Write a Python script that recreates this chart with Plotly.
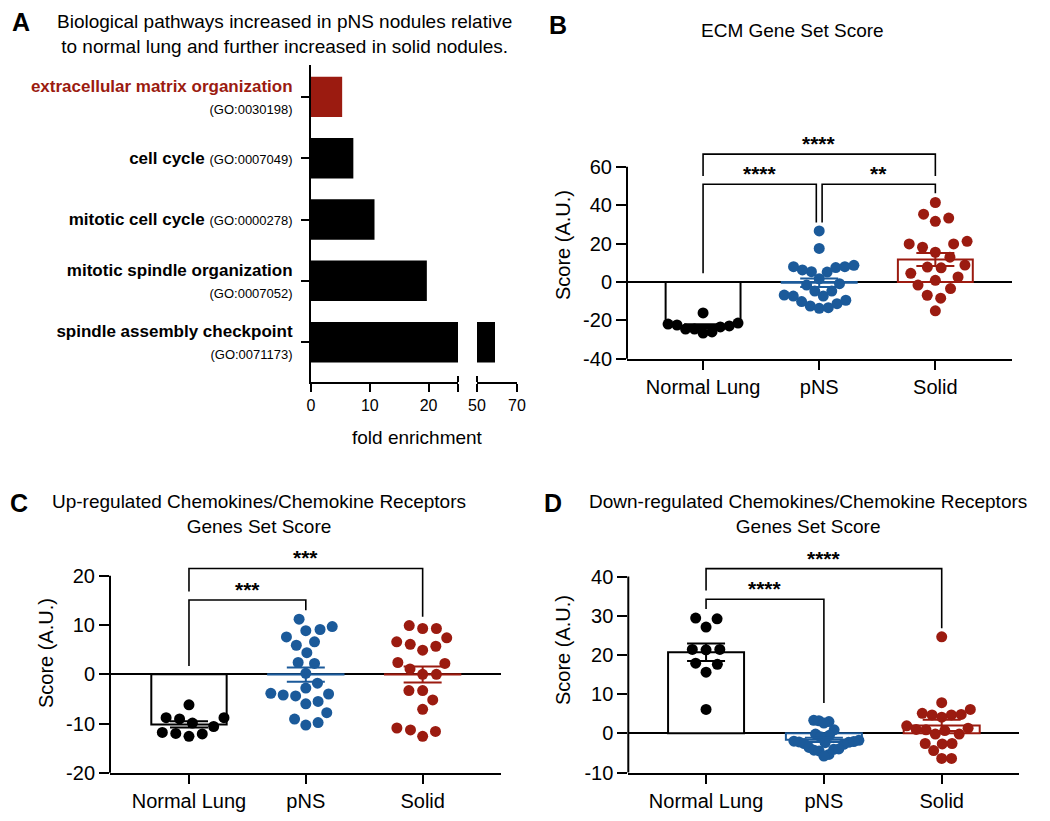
import math
import plotly.graph_objects as go

W, H = 1050, 821
FONT = "Liberation Sans, Arial, Helvetica, sans-serif"
BLACK, BLUE, RED = "#000000", "#1b5a9a", "#9b1b10"

# ---------------- Panel A data ----------------
pathway_names = ["extracellular matrix organization", "cell cycle", "mitotic cell cycle",
                 "mitotic spindle organization", "spindle assembly checkpoint"]
pathway_go = ["GO:0030198", "GO:0007049", "GO:0000278", "GO:0007052", "GO:0071173"]
pathway_fold = [5.3, 7.2, 10.8, 19.7, 59.0]
pathway_two_lines = [True, False, False, True, True]
pathway_highlight = [True, False, False, False, False]
fold_ticks_low = [0, 10, 20]
fold_ticks_high = [50, 70]

# ---------------- Panels B-D data ----------------
groups = ["Normal Lung", "pNS", "Solid"]

ecm_normal = [-24.5, -21.4, -22.9, -22.4, -16.1, -26.6, -21.9, -24.5, -23.4, -26.0]
ecm_pns = [26.6, 17.5, 8.7, 5.4, 5.2, 7.5, 6.3, 8.0, 8.0, 1.7, -1.6, -0.9, -6.8, -7.3,
           -4.7, -7.3, -4.7, -12.5, -11.3, -9.5, -13.7, -10.2, -13.4]
ecm_solid = [41.4, 31.6, 33.3, 35.3, 19.8, 21.2, 18.1, 19.8, 15.5, 12.9, 8.8, 7.4, 7.8,
             2.6, 0.9, 4.5, -3.4, -1.6, -8.4, -6.9, -15.0]
ecm_ticks = [-40, -20, 0, 20, 40, 60]
ecm_brackets = [(0, 2, 66.6, 55.2, 55.2, "****"),
                (0, 0.975, 50.9, 4.5, 31.0, "****"),
                (1.025, 2, 50.9, 31.0, 46.2, "**")]

up_normal = [-6.2, -8.8, -9.05, -8.8, -9.9, -10.6, -12.1, -12.0, -11.8, -12.6]
up_pns = [11.2, 8.85, 9.7, 9.1, 7.6, 6.6, 5.9, 4.4, 2.4, 2.2, 0.2, -1.8, -4.2, -3.85,
          -2.8, -4.4, -4.0, -5.5, -6.0, -7.8, -10.3, -9.8, -9.1]
up_solid = [9.3, 6.6, 2.2, -3.3, -12.6, 5.7, 0.0, -7.1, -10.9, 9.9, 7.4, 4.9, 2.4, 0.0,
            -5.2, -11.6, 9.3, 6.1, 1.1, -3.3, -11.3]
up_ticks = [-20, -10, 0, 10, 20]
up_brackets = [(0, 2, 21.5, 16.8, 11.7, "***"),
               (0, 1, 15.1, 1.7, 13.0, "***")]

down_normal = [29.4, 29.2, 27.1, 21.4, 21.3, 21.4, 17.9, 17.6, 15.6, 6.1]
down_pns = [3.3, 3.2, 3.0, 2.6, 0.9, -0.5, -0.2, -0.9, -1.8, -2.0, -2.2, -2.4, -2.1,
            -2.6, -2.3, -2.8, -3.6, -4.1, -4.3, -5.4, -4.5, -5.8, -4.0]
down_solid = [24.6, 7.8, 5.1, 4.7, 6.1, 4.7, 4.8, 4.1, 1.9, 1.3, -0.2, 0.9, -0.2, 0.7,
              1.0, -2.6, -4.4, -2.6, -2.7, -6.4, -6.4]
down_ticks = [-10, 0, 10, 20, 30, 40]
down_brackets = [(0, 2, 42.0, 36.4, 26.8, "****"),
                 (0, 1, 34.2, 31.7, 7.7, "****")]

group_colors = [BLACK, BLUE, RED]


def px_x(px):
    return px / W


def px_y(py):
    return 1 - py / H


def mean(v):
    return sum(v) / len(v)


def sem(v):
    m = mean(v)
    sd = math.sqrt(sum((a - m) ** 2 for a in v) / (len(v) - 1))
    return sd / math.sqrt(len(v))


def swarm_offsets(values, ppx, ppy, diam, max_px):
    """Beeswarm placement; spread is then limited to +/- max_px (points may overlap)."""
    n = len(values)
    order = sorted(range(n), key=lambda i: values[i])
    placed = []
    offs = [0.0] * n
    for i in order:
        y = values[i] * ppy
        cands = [0.0]
        for xj, yj in placed:
            dy = abs(y - yj)
            if dy < diam:
                dx = math.sqrt(diam * diam - dy * dy)
                cands += [xj + dx, xj - dx]
        cands.sort(key=lambda c: (round(abs(c), 3), -c))
        chosen = 0.0
        for c in cands:
            if all((c - xj) ** 2 + (y - yj) ** 2 >= diam * diam - 1e-6 for xj, yj in placed):
                chosen = c
                break
        placed.append((chosen, y))
        offs[i] = chosen
    m = max(abs(o) for o in offs) or 1.0
    scale = min(1.0, max_px / m)
    return [o * scale / ppx for o in offs]


fig = go.Figure()
annotations = []
shapes = []

# ---------------- Panel A ----------------
A_ytop, A_ybot = 65, 382
a_labels = []
for i, name in enumerate(pathway_names):
    nm = f"<b>{name}</b>"
    if pathway_highlight[i]:
        nm = f"<span style='color:{RED}'>{nm}</span>"
    sep = "<br>" if pathway_two_lines[i] else " "
    a_labels.append(nm + sep + f"<span style='font-size:13px'>({pathway_go[i]})</span>")

bar_cols = [RED if h else BLACK for h in pathway_highlight]
for xa in ["x", "x2"]:
    fig.add_trace(go.Bar(x=pathway_fold, y=pathway_names, orientation="h", width=0.66,
                         marker=dict(color=bar_cols, line=dict(width=0)),
                         xaxis=xa, yaxis="y", showlegend=False, hoverinfo="skip"))

axis_common = dict(showgrid=False, zeroline=False, showline=True, linecolor=BLACK,
                   linewidth=2, ticks="outside", tickcolor=BLACK, tickwidth=2,
                   ticklen=8, automargin=False,
                   tickfont=dict(family=FONT, size=16, color=BLACK))

layout_axes = {}
layout_axes["xaxis"] = dict(axis_common, domain=[px_x(311), px_x(458)], range=[0, 25],
                            tickvals=fold_ticks_low + [25],
                            ticktext=[str(t) for t in fold_ticks_low] + [""], anchor="y")
layout_axes["xaxis2"] = dict(axis_common, domain=[px_x(477), px_x(517)],
                             range=[fold_ticks_high[0], fold_ticks_high[-1]],
                             tickvals=fold_ticks_high,
                             ticktext=[str(t) for t in fold_ticks_high], anchor="y")
layout_axes["yaxis"] = dict(axis_common, domain=[px_y(A_ybot), px_y(A_ytop)],
                            type="category", categoryarray=pathway_names,
                            range=[4.65, -0.52], tickvals=pathway_names, ticktext=a_labels,
                            anchor="x", ticklabelstandoff=5,
                            tickfont=dict(family=FONT, size=17, color=BLACK))
# axis-break caps rising above the broken x axis
a_dom_h = A_ybot - A_ytop
for xr_, xv in [("x domain", 1), ("x2 domain", 0)]:
    shapes.append(dict(type="line", xref=xr_, yref="y domain", x0=xv, x1=xv,
                       y0=0, y1=6 / a_dom_h, line=dict(color=BLACK, width=2)))

annotations.append(dict(text="Biological pathways increased in pNS nodules relative<br>"
                             "to normal lung and further increased in solid nodules.",
                        x=px_x(284), y=px_y(34), xref="paper", yref="paper",
                        showarrow=False, font=dict(family=FONT, size=19, color=BLACK),
                        xanchor="center", yanchor="middle", align="center"))
annotations.append(dict(text="fold enrichment", x=px_x(417), y=px_y(437), xref="paper",
                        yref="paper", showarrow=False,
                        font=dict(family=FONT, size=19, color=BLACK),
                        xanchor="center", yanchor="middle"))

# ---------------- Panels B-D ----------------
panels = [
    dict(letter="B", title="ECM Gene Set Score", xa="x3", ya="y2",
         xdom=(627, 1012), ydom=(147.6, 358.8), xr=(-0.655, 2.66), yr=(-40, 70),
         ticks=ecm_ticks, data=[ecm_normal, ecm_pns, ecm_solid], brackets=ecm_brackets,
         letter_pos=(558, 25), title_pos=(792, 30), ytitle_pos=(563, 245)),
    dict(letter="C", title="Up-regulated Chemokines/Chemokine Receptors<br>Genes Set Score",
         xa="x4", ya="y3",
         xdom=(110, 500.7), ydom=(551.2, 772.8), xr=(-0.676, 2.668), yr=(-20, 25),
         ticks=up_ticks, data=[up_normal, up_pns, up_solid], brackets=up_brackets,
         letter_pos=(19, 503), title_pos=(259, 514), ytitle_pos=(46, 653)),
    dict(letter="D", title="Down-regulated Chemokines/Chemokine Receptors<br>Genes Set Score",
         xa="x5", ya="y4",
         xdom=(628.3, 1019), ydom=(556.9, 772.5), xr=(-0.66, 2.656), yr=(-10, 45),
         ticks=down_ticks, data=[down_normal, down_pns, down_solid], brackets=down_brackets,
         letter_pos=(553, 503), title_pos=(808, 514), ytitle_pos=(563, 650)),
]

annotations.append(dict(text="<b>A</b>", x=px_x(21), y=px_y(22), xref="paper", yref="paper",
                        showarrow=False, font=dict(family=FONT, size=25, color=BLACK),
                        xanchor="center", yanchor="middle"))

MARK = 11
for p in panels:
    xa, ya = p["xa"], p["ya"]
    xkey = "xaxis" + xa[1:]
    ykey = "yaxis" + ya[1:]
    ppx = (p["xdom"][1] - p["xdom"][0]) / (p["xr"][1] - p["xr"][0])
    ppy = (p["ydom"][1] - p["ydom"][0]) / (p["yr"][1] - p["yr"][0])
    means = [mean(d) for d in p["data"]]
    sems = [sem(d) for d in p["data"]]

    fig.add_trace(go.Bar(x=[0, 1, 2], y=means, width=0.645, xaxis=xa, yaxis=ya,
                         marker=dict(color="white", line=dict(color=group_colors, width=2)),
                         showlegend=False, hoverinfo="skip"))
    for gi, vals in enumerate(p["data"]):
        offs = swarm_offsets(vals, ppx, ppy, MARK * 1.25, 35)
        fig.add_trace(go.Scatter(x=[gi + o for o in offs], y=vals, mode="markers",
                                 xaxis=xa, yaxis=ya, showlegend=False, hoverinfo="skip",
                                 marker=dict(size=MARK, color=group_colors[gi],
                                             line=dict(width=0)), cliponaxis=False))
    for gi in range(3):
        fig.add_trace(go.Scatter(x=[gi], y=[means[gi]], mode="markers", xaxis=xa, yaxis=ya,
                                 marker=dict(size=1, color="rgba(0,0,0,0)"),
                                 error_y=dict(type="data", array=[sems[gi]],
                                              color=group_colors[gi], thickness=2, width=19),
                                 showlegend=False, hoverinfo="skip"))

    layout_axes[xkey] = dict(showgrid=False, zeroline=False, showline=True, linecolor=BLACK,
                             linewidth=2, ticks="outside", tickcolor=BLACK, tickwidth=2,
                             ticklen=9, automargin=False,
                             domain=[px_x(p["xdom"][0]), px_x(p["xdom"][1])],
                             range=list(p["xr"]), tickvals=[0, 1, 2], ticktext=groups,
                             tickfont=dict(family=FONT, size=20, color=BLACK), anchor=ya)
    layout_axes[ykey] = dict(showgrid=False, zeroline=True, zerolinecolor=BLACK,
                             zerolinewidth=2, showline=False, ticks="outside",
                             tickcolor=BLACK, tickwidth=2, ticklen=10, automargin=False,
                             domain=[px_y(p["ydom"][1]), px_y(p["ydom"][0])],
                             range=list(p["yr"]), tickvals=p["ticks"],
                             ticktext=[str(t) for t in p["ticks"]],
                             tickfont=dict(family=FONT, size=20, color=BLACK), anchor=xa)
    # y-axis line ending at the top tick
    shapes.append(dict(type="line", xref=xa + " domain", yref=ya, x0=0, x1=0,
                       y0=p["yr"][0] - 1, y1=p["ticks"][-1],
                       line=dict(color=BLACK, width=2)))
    # significance brackets
    for (x0, x1, hgt, yl, yr_, lab) in p["brackets"]:
        shapes.append(dict(type="path", xref=xa, yref=ya,
                           path=f"M {x0},{yl} L {x0},{hgt} L {x1},{hgt} L {x1},{yr_}",
                           line=dict(color=BLACK, width=1.6)))
        annotations.append(dict(text=f"<b>{lab}</b>", x=(x0 + x1) / 2, y=hgt, xref=xa,
                                yref=ya, showarrow=False, yanchor="bottom", yshift=-3,
                                font=dict(family=FONT, size=21, color=BLACK)))
    annotations.append(dict(text=f"<b>{p['letter']}</b>", x=px_x(p["letter_pos"][0]),
                            y=px_y(p["letter_pos"][1]), xref="paper", yref="paper",
                            showarrow=False, font=dict(family=FONT, size=25, color=BLACK),
                            xanchor="center", yanchor="middle"))
    annotations.append(dict(text=p["title"], x=px_x(p["title_pos"][0]),
                            y=px_y(p["title_pos"][1]), xref="paper", yref="paper",
                            showarrow=False, font=dict(family=FONT, size=19, color=BLACK),
                            xanchor="center", yanchor="middle", align="center"))
    annotations.append(dict(text="Score (A.U.)", x=px_x(p["ytitle_pos"][0]),
                            y=px_y(p["ytitle_pos"][1]), xref="paper", yref="paper",
                            showarrow=False, textangle=-90,
                            font=dict(family=FONT, size=20, color=BLACK),
                            xanchor="center", yanchor="middle"))

fig.update_layout(template="none", width=W, height=H, margin=dict(l=0, r=0, t=0, b=0),
                  paper_bgcolor="white", plot_bgcolor="white", showlegend=False,
                  barmode="overlay", font=dict(family=FONT, color=BLACK),
                  annotations=annotations, shapes=shapes, **layout_axes)

fig.write_html("out.html", config={"displayModeBar": False, "staticPlot": True},
               post_script="document.body.style.margin='0px';"
                           "document.body.style.overflow='hidden';")
